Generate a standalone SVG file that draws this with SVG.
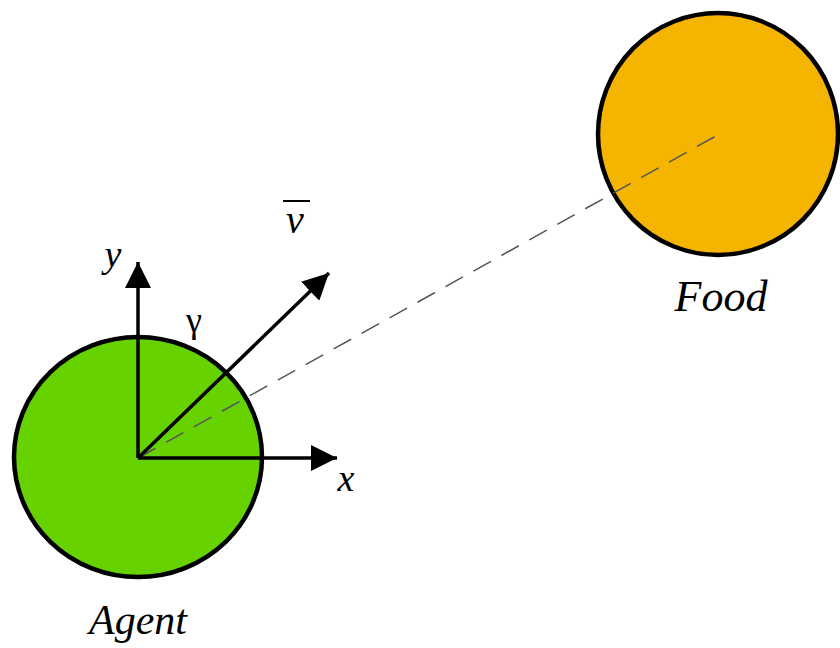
<svg xmlns="http://www.w3.org/2000/svg" width="840" height="648" viewBox="0 0 840 648">
<style>
.lbl{font-family:"Liberation Serif","DejaVu Serif",serif;font-style:italic;fill:#000}
.ax{stroke:#000;stroke-width:3.5;fill:none}
</style>
<defs>
<marker id="ah" viewBox="0 0 10 10" refX="10" refY="5" markerWidth="7.5" markerHeight="7.5" markerUnits="strokeWidth" orient="auto">
<path d="M0,0 L10,5 L0,10 Z" fill="#000"/>
</marker>
</defs>
<rect width="840" height="648" fill="#fff"/>
<g id="food">
<ellipse cx="718" cy="134" rx="120" ry="121" fill="#F5B400" stroke="#000" stroke-width="4.5"/>
<text class="lbl" x="721" y="311" font-size="44" text-anchor="middle">Food</text>
</g>
<g id="agent">
<ellipse cx="138" cy="457" rx="124" ry="120" fill="#66D200" stroke="#000" stroke-width="4.5"/>
<text class="lbl" x="138" y="634" font-size="42" text-anchor="middle">Agent</text>
</g>
<g id="connectors">
<line x1="138" y1="458" x2="723" y2="132" stroke="#555" stroke-width="1.5" stroke-dasharray="20,12"/>
<line class="ax" x1="138" y1="458" x2="138" y2="262" marker-end="url(#ah)"/>
<line class="ax" x1="138" y1="458" x2="337" y2="458" marker-end="url(#ah)"/>
<line class="ax" x1="138" y1="458" x2="329" y2="273" marker-end="url(#ah)"/>
</g>
<g id="labels">
<text class="lbl" x="113" y="267" font-size="38" text-anchor="middle">y</text>
<text class="lbl" x="346" y="491" font-size="38" text-anchor="middle">x</text>
<text x="194" y="332" font-size="36" text-anchor="middle" font-family="Liberation Serif,DejaVu Serif,serif">γ</text>
<text class="lbl" x="295" y="233" font-size="40" text-anchor="middle">v</text>
<line x1="283" y1="201" x2="310" y2="201" stroke="#000" stroke-width="2"/>
</g>
</svg>
